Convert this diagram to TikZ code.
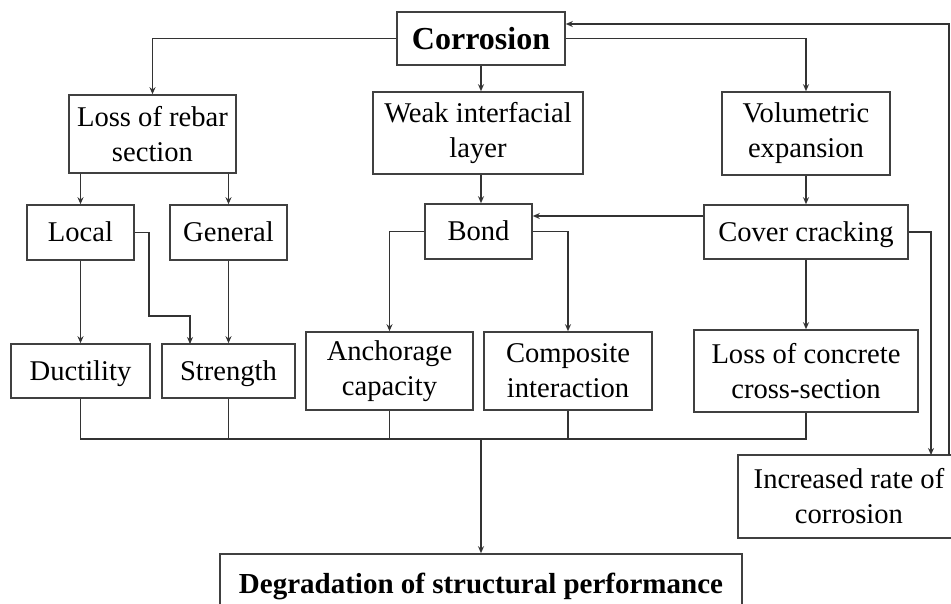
\documentclass[tikz,border=0pt]{standalone}
\usepackage{fontspec}
\setmainfont{Liberation Serif}
\usetikzlibrary{arrows.meta}
\newcommand\mystrut{\rule[-7pt]{0pt}{32pt}}
\newcommand\bigstrut{\rule[-7pt]{0pt}{35pt}}
\begin{document}
\begin{tikzpicture}[x=1pt,y=-1pt,
  nbox/.style={draw=black!75, line width=1.6pt, align=center, inner sep=0pt,
    font=\fontsize{28.6}{35}\selectfont},
  conn/.style={draw=black!80, line width=1.4pt},
  arr/.style={conn, -{Stealth[length=7pt,width=6pt]}}]
\useasboundingbox (0,0) rectangle (951,603);
\clip (0,0) rectangle (951,603);
\node[nbox, minimum width=168pt, minimum height=53pt] (corr) at (481,38.5) {\fontsize{32}{38}\selectfont\bfseries\bigstrut Corrosion};
\node[nbox, minimum width=167pt, minimum height=78pt] (lrs) at (152.5,134) {Loss of rebar\\section};
\node[nbox, minimum width=210pt, minimum height=82pt] (wil) at (478,133) {Weak interfacial\\layer};
\node[nbox, minimum width=168pt, minimum height=83pt] (vol) at (806,133.5) {Volumetric\\expansion};
\node[nbox, minimum width=107pt, minimum height=55pt] (local) at (80.5,232.5) {\mystrut Local};
\node[nbox, minimum width=117pt, minimum height=55pt] (gen) at (228.5,232.5) {\mystrut General};
\node[nbox, minimum width=107pt, minimum height=55pt] (bond) at (478.5,231.5) {\mystrut Bond};
\node[nbox, minimum width=204pt, minimum height=54pt] (cover) at (806,232) {\mystrut Cover cracking};
\node[nbox, minimum width=139pt, minimum height=54pt] (duct) at (80.5,371) {\mystrut Ductility};
\node[nbox, minimum width=133pt, minimum height=54pt] (str) at (228.5,371) {\mystrut Strength};
\node[nbox, minimum width=167pt, minimum height=78pt] (anch) at (389.5,371) {Anchorage\\capacity};
\node[nbox, minimum width=168pt, minimum height=78pt] (comp) at (568,371) {Composite\\interaction};
\node[nbox, minimum width=224pt, minimum height=82pt] (loc) at (806,371) {Loss of concrete\\cross-section};
\node[nbox, minimum width=222pt, minimum height=83pt] (inc) at (849,496.5) {Increased rate of\\corrosion};
\node[nbox, minimum width=522pt, minimum height=60pt] (deg) at (481,584) {\fontsize{29}{35}\selectfont\bfseries\mystrut Degradation of structural performance};
% connectors from Corrosion
\draw[arr] (corr.west) -| (lrs.north);
\draw[arr] (corr.east) -| (vol.north);
\draw[arr] (corr.south) -- (corr.south |- wil.north);
\coordinate (fb) at (949,455);
\coordinate (fbtop) at (949,24);
\draw[arr] (fb) -- (fbtop) -- (fbtop -| corr.east);
% second level
\draw[arr] (local.north |- lrs.south) -- (local.north);
\draw[arr] (gen.north |- lrs.south) -- (gen.north);
\draw[arr] (corr.south |- wil.south) -- (corr.south |- bond.north);
\draw[arr] (vol.south) -- (cover.north);
\draw[arr] ([yshift=16pt]cover.west) -- ([yshift=16pt]cover.west -| bond.east);
% third level
\draw[arr] (local.south) -- (duct.north);
\coordinate (s1) at (149,316);
\coordinate (stin) at (190,344);
\draw[arr] (local.east) -| (s1) -| (stin);
\draw[arr] (gen.south) -- (str.north);
\draw[arr] (bond.west) -| (anch.north);
\draw[arr] (bond.east) -| (comp.north);
\draw[arr] (cover.south) -- (loc.north);
\coordinate (incin) at (931,455);
\draw[arr] (cover.east) -| (incin);
% collector
\coordinate (bl) at (80.5,439);
\coordinate (br) at (806,439);
\draw[conn] (duct.south) -- (duct.south |- bl) -- (br) -- (loc.south);
\draw[conn] (str.south) -- (str.south |- bl);
\draw[conn] (anch.south) -- (anch.south |- bl);
\draw[conn] (comp.south) -- (comp.south |- bl);
\draw[arr] (deg.north |- bl) -- (deg.north);
\end{tikzpicture}
\end{document}
